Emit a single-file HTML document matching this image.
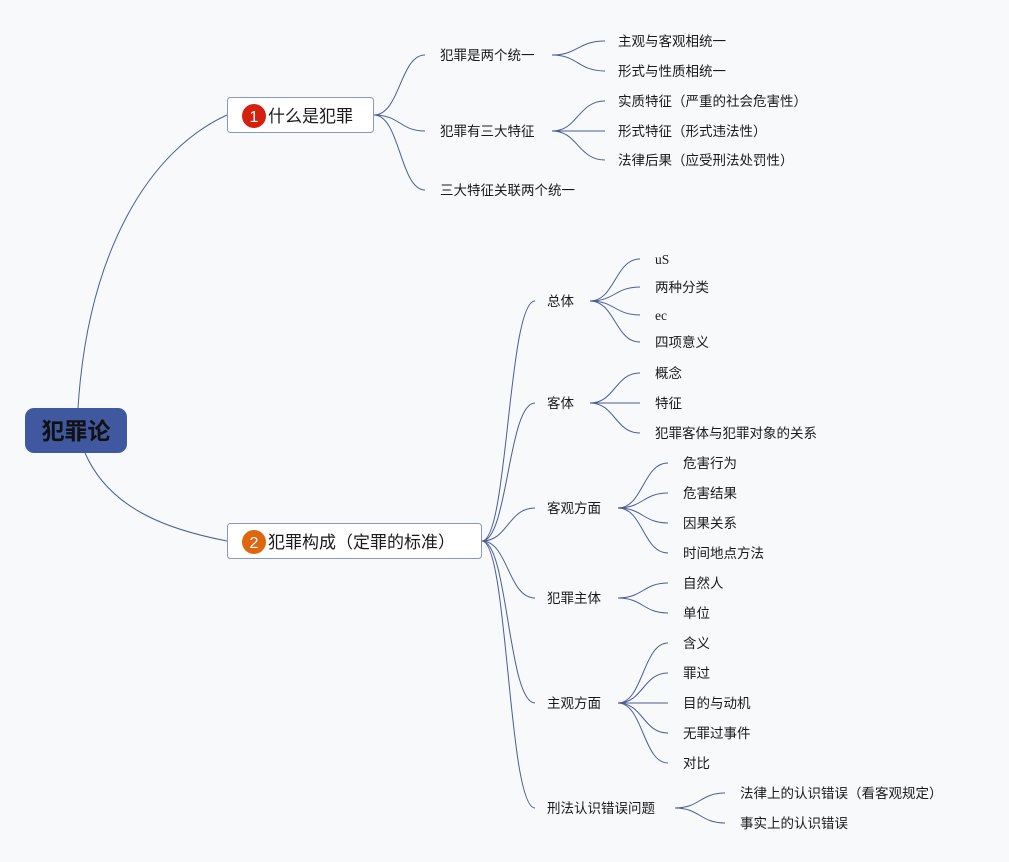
<!DOCTYPE html>
<html><head><meta charset="utf-8"><style>
body{margin:0;background:#f8f9fb;}
svg{display:block}
text{font-family:"Liberation Sans","Noto Sans CJK SC",sans-serif;font-size:13.5px;fill:#1a1a1a}
.s{font-family:"Liberation Serif","Noto Serif CJK SC",serif}
path{fill:none;stroke:#4c5c98;stroke-width:1}
</style></head><body>
<svg width="1009" height="862" viewBox="0 0 1009 862">
<rect width="1009" height="862" fill="#f8f9fb"/>
<path d="M78,408 C88,250 150,150 227,115"/>
<path d="M85,453 C110,510 170,530 227,541"/>
<path d="M374,115 C400,115 400,55 425,55"/>
<path d="M374,115 C400,115 400,131 425,131"/>
<path d="M374,115 C400,115 400,190 425,190"/>
<path d="M552,55 C578,55 578,41 605,41"/>
<path d="M552,55 C578,55 578,71 605,71"/>
<path d="M552,131 C578,131 578,101 605,101"/>
<path d="M552,131 C578,131 578,131 605,131"/>
<path d="M552,131 C578,131 578,160 605,160"/>
<path d="M482,541 C508,541 508,301 535,301"/>
<path d="M482,541 C508,541 508,403 535,403"/>
<path d="M482,541 C508,541 508,508 535,508"/>
<path d="M482,541 C508,541 508,598 535,598"/>
<path d="M482,541 C508,541 508,703 535,703"/>
<path d="M482,541 C508,541 508,808 535,808"/>
<path d="M590,301 C615,301 615,259 640,259"/>
<path d="M590,301 C615,301 615,287 640,287"/>
<path d="M590,301 C615,301 615,315 640,315"/>
<path d="M590,301 C615,301 615,342 640,342"/>
<path d="M590,403 C615,403 615,373 640,373"/>
<path d="M590,403 C615,403 615,403 640,403"/>
<path d="M590,403 C615,403 615,433 640,433"/>
<path d="M618,508 C643,508 643,463 668,463"/>
<path d="M618,508 C643,508 643,493 668,493"/>
<path d="M618,508 C643,508 643,523 668,523"/>
<path d="M618,508 C643,508 643,553 668,553"/>
<path d="M618,598 C643,598 643,583 668,583"/>
<path d="M618,598 C643,598 643,613 668,613"/>
<path d="M618,703 C643,703 643,643 668,643"/>
<path d="M618,703 C643,703 643,673 668,673"/>
<path d="M618,703 C643,703 643,703 668,703"/>
<path d="M618,703 C643,703 643,733 668,733"/>
<path d="M618,703 C643,703 643,763 668,763"/>
<path d="M675,808 C700,808 700,793 725,793"/>
<path d="M675,808 C700,808 700,823 725,823"/>
<rect x="25" y="408" width="102" height="45" rx="9" fill="#3f58a0"/>
<text x="76" y="439" text-anchor="middle" style="font-size:23px;font-weight:bold;fill:#111">犯罪论</text>
<rect x="227.5" y="97.5" width="146" height="35" rx="3" fill="#fff" stroke="#8896c4"/>
<circle cx="254" cy="116" r="12" fill="#d4200c"/>
<text x="254" y="122" text-anchor="middle" style="font-size:16px;fill:#fff">1</text>
<text x="268" y="122" style="font-size:17px">什么是犯罪</text>
<rect x="227.5" y="523.5" width="254" height="35" rx="3" fill="#fff" stroke="#8896c4"/>
<circle cx="254" cy="542" r="12" fill="#e0650f"/>
<text x="254" y="548" text-anchor="middle" style="font-size:16px;fill:#fff">2</text>
<text x="268" y="548" style="font-size:17px">犯罪构成（定罪的标准）</text>
<text x="440" y="60">犯罪是两个统一</text>
<text x="440" y="136">犯罪有三大特征</text>
<text x="440" y="195">三大特征关联两个统一</text>
<text x="618" y="46">主观与客观相统一</text>
<text x="618" y="76">形式与性质相统一</text>
<text x="618" y="106">实质特征（严重的社会危害性）</text>
<text x="618" y="136">形式特征（形式违法性）</text>
<text x="618" y="165">法律后果（应受刑法处罚性）</text>
<text x="547" y="306">总体</text>
<text x="547" y="408">客体</text>
<text x="547" y="513">客观方面</text>
<text x="547" y="603">犯罪主体</text>
<text x="547" y="708">主观方面</text>
<text x="547" y="813">刑法认识错误问题</text>
<text x="655" y="264" class="s">uS</text>
<text x="655" y="292">两种分类</text>
<text x="655" y="320" class="s">ec</text>
<text x="655" y="347">四项意义</text>
<text x="655" y="378">概念</text>
<text x="655" y="408">特征</text>
<text x="655" y="438">犯罪客体与犯罪对象的关系</text>
<text x="683" y="468">危害行为</text>
<text x="683" y="498">危害结果</text>
<text x="683" y="528">因果关系</text>
<text x="683" y="558">时间地点方法</text>
<text x="683" y="588">自然人</text>
<text x="683" y="618">单位</text>
<text x="683" y="648">含义</text>
<text x="683" y="678">罪过</text>
<text x="683" y="708">目的与动机</text>
<text x="683" y="738">无罪过事件</text>
<text x="683" y="768">对比</text>
<text x="740" y="798">法律上的认识错误（看客观规定）</text>
<text x="740" y="828">事实上的认识错误</text>
</svg>
</body></html>
